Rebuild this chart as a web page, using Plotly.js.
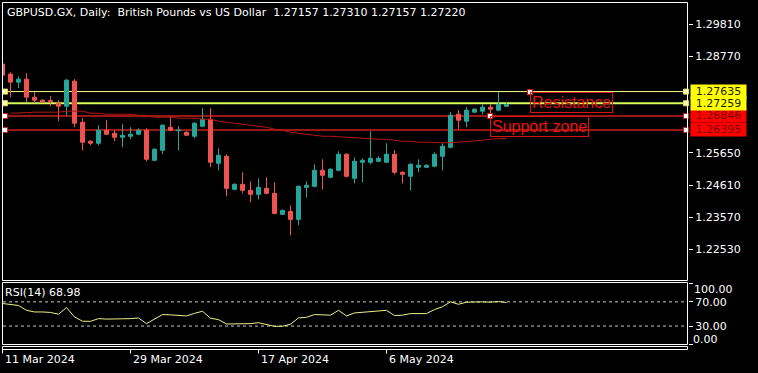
<!DOCTYPE html>
<html>
<head>
<meta charset="utf-8">
<script src="https://cdn.plot.ly/plotly-3.0.1.min.js"></script>
<style>
html,body{margin:0;padding:0;background:#000;}
#chart{width:758px;height:373px;}
</style>
</head>
<body>
<div id="chart"></div>
<script>
// ---- DATA ----
const dates = ['2024-03-11','2024-03-12','2024-03-13','2024-03-14','2024-03-15','2024-03-17','2024-03-18','2024-03-19','2024-03-20','2024-03-21',
'2024-03-22','2024-03-24','2024-03-25','2024-03-26','2024-03-27','2024-03-28','2024-03-29','2024-03-31','2024-04-01','2024-04-02',
'2024-04-03','2024-04-04','2024-04-05','2024-04-07','2024-04-08','2024-04-09','2024-04-10','2024-04-11','2024-04-12','2024-04-14',
'2024-04-15','2024-04-16','2024-04-17','2024-04-18','2024-04-19','2024-04-21','2024-04-22','2024-04-23','2024-04-24','2024-04-25',
'2024-04-26','2024-04-28','2024-04-29','2024-04-30','2024-05-01','2024-05-02','2024-05-03','2024-05-05','2024-05-06','2024-05-07',
'2024-05-08','2024-05-09','2024-05-10','2024-05-12','2024-05-13','2024-05-14','2024-05-15','2024-05-16','2024-05-17','2024-05-19',
'2024-05-20','2024-05-21','2024-05-22','2024-05-23'];

const open = [1.28524,1.28200,1.27941,1.28038,1.27455,1.27357,1.27341,1.27260,1.27163,1.27973,
1.26644,1.26029,1.25964,1.26385,1.26288,1.26158,1.26191,1.26256,1.26385,1.25413,
1.25737,1.26482,1.26369,1.26320,1.26191,1.26515,1.26742,1.25316,1.25543,1.24474,
1.24636,1.24441,1.24312,1.24506,1.24344,1.23664,1.23761,1.23502,1.24539,1.24571,
1.25089,1.24862,1.25089,1.25608,1.24830,1.25349,1.25349,1.25381,1.25349,1.25608,
1.25025,1.24895,1.25187,1.25187,1.25219,1.25543,1.25835,1.26904,1.26677,1.26969,
1.27001,1.27131,1.27033,1.27157];
const high = [1.28556,1.28265,1.28135,1.28232,1.27617,1.27390,1.27487,1.27357,1.28038,1.28038,
1.26774,1.26061,1.26547,1.26709,1.26385,1.26580,1.26482,1.26450,1.26450,1.25802,
1.26580,1.26839,1.26515,1.26353,1.26644,1.27098,1.27098,1.25802,1.25608,1.24668,
1.25025,1.24733,1.24830,1.24863,1.24701,1.23826,1.23955,1.24604,1.24733,1.25284,
1.25446,1.25154,1.25705,1.25640,1.25511,1.25478,1.26353,1.25543,1.25964,1.25737,
1.25057,1.25316,1.25446,1.25284,1.25673,1.25964,1.26969,1.27033,1.27131,1.27098,
1.27228,1.27228,1.27617,1.27310];
const low = [1.28135,1.27455,1.27746,1.27293,1.27260,1.27276,1.27163,1.26677,1.26871,1.26482,
1.25737,1.25899,1.25899,1.26223,1.26029,1.25834,1.26094,1.26223,1.25381,1.25381,
1.25608,1.26353,1.25737,1.26191,1.26126,1.26482,1.25187,1.25089,1.24247,1.24441,
1.24344,1.24053,1.24150,1.24312,1.23664,1.23664,1.22983,1.23307,1.24214,1.24539,
1.24474,1.24830,1.25057,1.24862,1.24668,1.24701,1.25284,1.25365,1.25332,1.24960,
1.24668,1.24441,1.25025,1.25170,1.25187,1.25089,1.25802,1.26418,1.26482,1.26953,
1.26904,1.26936,1.27001,1.27157];
const close = [1.28167,1.27941,1.28038,1.27455,1.27357,1.27293,1.27325,1.27163,1.28005,1.26612,
1.25997,1.25964,1.26385,1.26256,1.26158,1.26223,1.26256,1.26385,1.25446,1.25770,
1.26547,1.26385,1.26385,1.26223,1.26612,1.26742,1.25349,1.25575,1.24506,1.24636,
1.24441,1.24312,1.24539,1.24344,1.23696,1.23793,1.23502,1.24571,1.24604,1.25089,
1.24927,1.25122,1.25608,1.24895,1.25381,1.25413,1.25478,1.25478,1.25608,1.25025,
1.24960,1.25284,1.25251,1.25251,1.25608,1.25867,1.26871,1.26709,1.27033,1.27066,
1.27131,1.27066,1.27228,1.27220];
const movingAvg = [null,1.26936,1.26936,1.26953,1.26969,1.26969,1.26969,1.26969,1.27001,1.27001,
1.27001,1.26936,1.26936,1.26904,1.26904,1.26904,1.26904,1.26871,1.26839,1.26807,
1.26807,1.26807,1.26774,1.26774,1.26774,1.26742,1.26742,1.26677,1.26644,1.26612,
1.26580,1.26547,1.26515,1.26482,1.26418,1.26385,1.26320,1.26288,1.26256,1.26223,
1.26191,1.26191,1.26174,1.26158,1.26126,1.26126,1.26110,1.26094,1.26094,1.26061,
1.26029,1.26029,1.25997,1.25997,1.25980,1.25980,1.25980,1.25997,1.26029,1.26045,
1.26061,1.26094,1.26110,1.26126];
const rsi = [67.3,66,64,56,53.3,53.3,52.5,49.5,60.6,45,
38,37.8,42.3,41.5,42.3,42,42.3,43.4,34,41,
49,48.5,48,46.7,51,54.5,43,40.6,33.4,33.5,
33.2,34,35.6,33,29.5,29.7,33,43.4,44.5,49,
48.5,48,56,46.7,51.7,52.5,53.3,54,56,47.3,
48,50.6,50.6,50.6,57.3,62,70,66,69.5,70,
70,69.5,70.5,68.98];

const priceTicks = [1.22530,1.23570,1.24610,1.25650,1.28770,1.29810];
const levels = [1.27635,1.27259,1.26846,1.26395];
const levelLabels = ['1.27635','1.27259','1.26846','1.26395'];
const rsiLevels = [30,70];
const rsiTicks = [0,30,70,100];
const rsiTickText = ['','30.00','70.00',''];
const dateTickIdx = [0,16,32,48];
const dateTickLabels = ['11 Mar 2024','29 Mar 2024','17 Apr 2024','6 May 2024'];
const headerText = 'GBPUSD.GX, Daily:  British Pounds vs US Dollar  1.27157 1.27310 1.27157 1.27220';
const rsiLabel = 'RSI(14) 68.98';
const textLabels = ['Resistance','Support zone'];
const textX = [65.94, 60.94];
const textY = [1.27617, 1.26846];

// ---- STYLE / LAYOUT ----
const W = 758, H = 373;
const px = x => x / W;
const py = y => 1 - y / H;
const idx = dates.map((d, i) => i);
const FONT = 'DejaVu Sans';
const UP = '#26a69a', DN = '#ef5350';
const levelColors = ['#ffff88', '#d4ff5a', '#cc1f1f', '#cc1f1f'];
const levelWidths = [1, 2, 1.5, 1.5];
const labelBg = ['#ffff00', '#ffff00', '#ff0000', '#ff0000'];
const labelFg = ['#202000', '#202000', '#7a0000', '#7a0000'];

const traces = [
  {
    type: 'candlestick', x: idx, open: open, high: high, low: low, close: close,
    xaxis: 'x', yaxis: 'y', whiskerwidth: 0,
    increasing: {line: {color: UP, width: 1}, fillcolor: UP},
    decreasing: {line: {color: DN, width: 1}, fillcolor: DN},
    hoverinfo: 'skip', showlegend: false
  },
  {
    type: 'scatter', mode: 'lines', x: idx, y: movingAvg, xaxis: 'x', yaxis: 'y',
    line: {color: '#b81414', width: 1, shape: 'linear'}, hoverinfo: 'skip', showlegend: false
  },
  {
    type: 'scatter', mode: 'markers',
    x: levels.map(() => 0.31).concat(levels.map(() => 85.44)),
    y: levels.concat(levels), xaxis: 'x', yaxis: 'y', cliponaxis: false,
    marker: {symbol: 'square', size: 5,
      color: levels.map((l, i) => i < 2 ? '#ffff99' : '#ffffff').concat(levels.map((l, i) => i < 2 ? '#ffff99' : '#ffffff')),
      line: {width: 1, color: levels.map((l, i) => i < 2 ? '#e0e060' : '#cc1f1f').concat(levels.map((l, i) => i < 2 ? '#e0e060' : '#cc1f1f'))}},
    hoverinfo: 'skip', showlegend: false
  },
  {
    type: 'scatter', mode: 'lines', x: idx, y: rsi, xaxis: 'x2', yaxis: 'y2',
    line: {color: '#eeee88', width: 1}, hoverinfo: 'skip', showlegend: false
  }
];

const shapes = [];
// panel frames
[[2.5, 2.5, 687.5, 280.5], [2.5, 282.5, 687.5, 344.5], [2.5, 346.5, 687.5, 349.5]].forEach(r => {
  shapes.push({type: 'rect', xref: 'paper', yref: 'paper', x0: px(r[0]), x1: px(r[2]), y0: py(r[3]), y1: py(r[1]),
    line: {color: '#ffffff', width: 1}, fillcolor: 'rgba(0,0,0,0)', layer: 'above'});
});
// horizontal price levels
levels.forEach((lv, i) => {
  shapes.push({type: 'line', xref: 'paper', yref: 'y', x0: px(3), x1: px(687), y0: lv, y1: lv,
    line: {color: levelColors[i], width: levelWidths[i]}, layer: 'below'});
});
// RSI levels
rsiLevels.forEach(lv => {
  shapes.push({type: 'line', xref: 'paper', yref: 'y2', x0: px(3), x1: px(687), y0: lv, y1: lv,
    line: {color: '#c8c8c8', width: 1, dash: '3px,3px'}, layer: 'below'});
});
// date ticks
dateTickIdx.forEach(t => {
  shapes.push({type: 'line', xref: 'x', yref: 'paper', x0: t, x1: t, y0: py(349.5), y1: py(353.5),
    line: {color: '#ffffff', width: 1}});
});

const annotations = [];
annotations.push({xref: 'paper', yref: 'paper', x: px(5), y: py(12), xanchor: 'left', yanchor: 'middle',
  text: headerText.replace(/ /g, '\u00a0'), showarrow: false, font: {family: FONT, size: 11, color: '#ffffff'}});
annotations.push({xref: 'paper', yref: 'paper', x: px(3), y: py(292), xanchor: 'left', yanchor: 'middle',
  text: rsiLabel, showarrow: false, font: {family: FONT, size: 11, color: '#ffffff'}});
annotations.push({xref: 'paper', yref: 'paper', x: px(692), y: py(289), xanchor: 'left', yanchor: 'middle',
  text: '100.00', showarrow: false, font: {family: FONT, size: 11, color: '#ffffff'}});
annotations.push({xref: 'paper', yref: 'paper', x: px(692), y: py(339.5), xanchor: 'left', yanchor: 'middle',
  text: '0.00', showarrow: false, borderpad: 0, font: {family: FONT, size: 11, color: '#ffffff'}});
dateTickIdx.forEach((t, i) => {
  annotations.push({xref: 'x', yref: 'paper', x: t, y: py(359), xanchor: 'left', yanchor: 'middle',
    text: dateTickLabels[i], showarrow: false, font: {family: FONT, size: 11, color: '#ffffff'}});
});
[2, 3, 0, 1].forEach(i => {
  annotations.push({xref: 'paper', yref: 'y', x: px(690), y: levels[i], xanchor: 'left', yanchor: 'middle',
    text: levelLabels[i], showarrow: false, bgcolor: labelBg[i], borderpad: 0, width: 55, height: 13,
    font: {family: FONT, size: 11, color: labelFg[i]}});
});
textLabels.forEach((t, i) => {
  annotations.push({xref: 'x', yref: 'y', x: textX[i], y: textY[i], xanchor: 'left', yanchor: 'top',
    text: t, showarrow: false, bordercolor: '#dd1111', borderwidth: 1, borderpad: 1,
    font: {family: 'Liberation Sans', size: 16, color: '#ee1111'}});
});
traces.push({
  type: 'scatter', mode: 'markers', x: textX, y: textY, xaxis: 'x', yaxis: 'y', cliponaxis: false,
  marker: {symbol: 'square', size: 5, color: '#ffffff', line: {width: 1, color: '#dd1111'}},
  hoverinfo: 'skip', showlegend: false
});

const xr = [-0.0625, 85.6875];
const layout = {
  width: W, height: H,
  margin: {l: 0, r: 0, t: 0, b: 0, pad: 0},
  paper_bgcolor: '#000000', plot_bgcolor: '#000000',
  showlegend: false,
  boxgap: 0.5, boxgroupgap: 0,
  xaxis: {domain: [px(2), px(688)], range: xr, visible: false, fixedrange: true,
    rangeslider: {visible: false}, anchor: 'y'},
  yaxis: {domain: [py(280.5), py(2)], range: [1.215253, 1.305325], side: 'right', anchor: 'x',
    tickmode: 'array', tickvals: priceTicks, ticktext: priceTicks.map(v => v.toFixed(5)),
    ticks: 'outside', ticklen: 4, tickcolor: '#ffffff', tickwidth: 1,
    tickfont: {family: FONT, size: 11, color: '#ffffff'},
    showgrid: false, zeroline: false, showline: false, fixedrange: true},
  xaxis2: {domain: [px(2), px(688)], range: xr, visible: false, anchor: 'y2', fixedrange: true},
  yaxis2: {domain: [py(344.5), py(282.5)], range: [-0.5, 102], side: 'right', anchor: 'x2',
    tickmode: 'array', tickvals: rsiTicks, ticktext: rsiTickText,
    ticks: 'outside', ticklen: 4, tickcolor: '#ffffff', tickwidth: 1,
    tickfont: {family: FONT, size: 11, color: '#ffffff'},
    showgrid: false, zeroline: false, showline: false, fixedrange: true},
  shapes: shapes,
  annotations: annotations
};

Plotly.newPlot('chart', traces, layout, {staticPlot: true, displayModeBar: false});
</script>
</body>
</html>
